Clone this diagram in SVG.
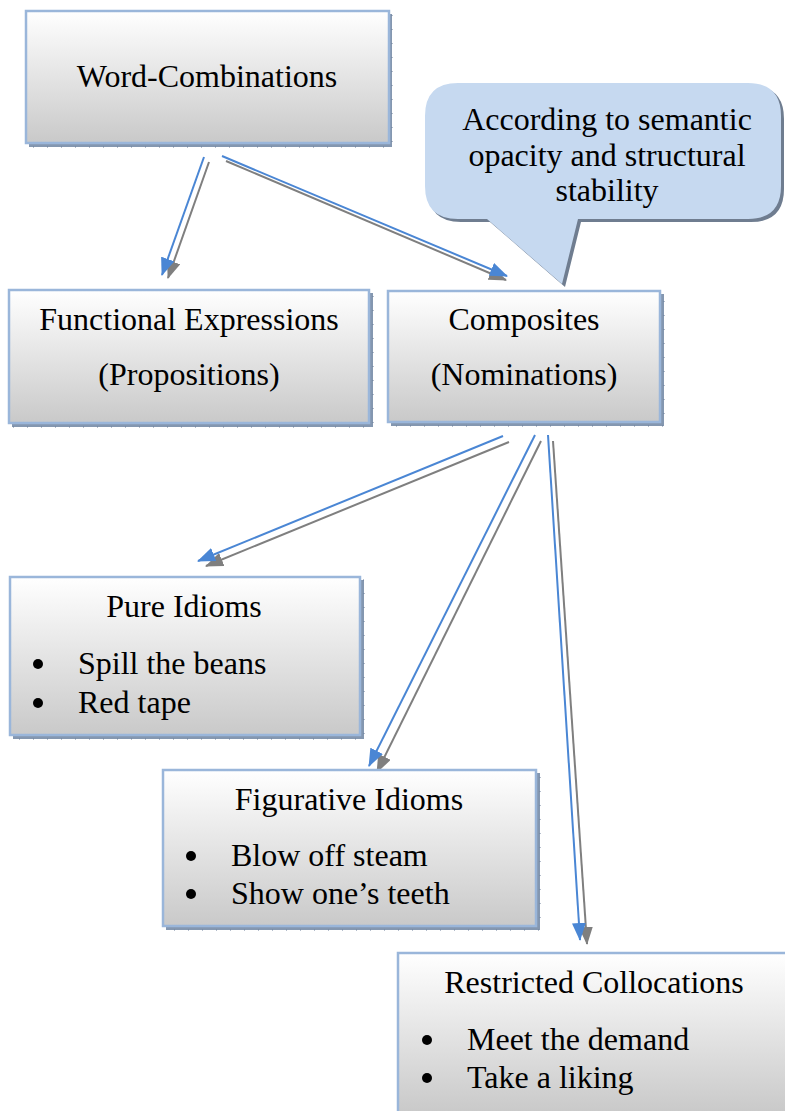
<svg xmlns="http://www.w3.org/2000/svg" width="785" height="1111" viewBox="0 0 785 1111">
  <defs>
    <linearGradient id="boxFill" x1="0" y1="0" x2="0" y2="1">
      <stop offset="0" stop-color="#ffffff"/>
      <stop offset="1" stop-color="#c9c9c9"/>
    </linearGradient>
    <marker id="headBlue" viewBox="0 0 18 14" refX="17" refY="7" markerWidth="18" markerHeight="14" markerUnits="userSpaceOnUse" orient="auto">
      <path d="M0,0 L18,7 L0,14 z" fill="#4a86d4"/>
    </marker>
    <marker id="headGray" viewBox="0 0 18 14" refX="17" refY="7" markerWidth="18" markerHeight="14" markerUnits="userSpaceOnUse" orient="auto">
      <path d="M0,0 L18,7 L0,14 z" fill="#7f7f7f"/>
    </marker>
  </defs>
  <style>
    .shadow { fill: #8497b0; stroke: #6c7f99; stroke-width: 1; stroke-dasharray: 1 13; }
    .box { fill: url(#boxFill); stroke: #9ab6da; stroke-width: 2.5; }
    .label { font-family: "Liberation Serif", "Times New Roman", serif; font-size: 32px; fill: #000; }
    .mid { text-anchor: middle; }
    .blue { stroke: #4a86d4; stroke-width: 2; fill: none; marker-end: url(#headBlue); }
    .gray { stroke: #7f7f7f; stroke-width: 2; fill: none; marker-end: url(#headGray); }
    .bubble { fill: #c6d9f0; }
    .bubbleShadow { fill: #6f7d90; }
  </style>

  <rect width="785" height="1111" fill="#ffffff"/>

  <!-- connectors: each drawn as a gray shadow line under a blue line -->
  <g id="connectors">
    <line class="gray" x1="209" y1="162" x2="168" y2="278"/>
    <line class="blue" x1="204" y1="157" x2="162" y2="275"/>

    <line class="gray" x1="226" y1="161" x2="506" y2="280"/>
    <line class="blue" x1="222" y1="156" x2="507" y2="276"/>

    <line class="gray" x1="509" y1="442" x2="206" y2="566"/>
    <line class="blue" x1="503" y1="436" x2="198" y2="561"/>

    <line class="gray" x1="541" y1="441" x2="377" y2="772"/>
    <line class="blue" x1="535" y1="435" x2="369" y2="766"/>

    <line class="gray" x1="553" y1="441" x2="587" y2="944"/>
    <line class="blue" x1="548" y1="435" x2="580" y2="940"/>
  </g>

  <!-- callout with its pointer -->
  <g id="callout">
    <path class="bubbleShadow" transform="translate(3,3)" d="M458,83 H748 Q781,83 781,116 V186 Q781,219 748,219 H578 L562,284 L487,219 H458 Q425,219 425,186 V116 Q425,83 458,83 Z"/>
    <path class="bubble" d="M458,83 H748 Q781,83 781,116 V186 Q781,219 748,219 H578 L562,284 L487,219 H458 Q425,219 425,186 V116 Q425,83 458,83 Z"/>
    <text class="label mid" x="607" y="130">According to semantic</text>
    <text class="label mid" x="607" y="166">opacity and structural</text>
    <text class="label mid" x="607" y="201">stability</text>
  </g>

  <g id="word-combinations">
    <rect class="shadow" x="29" y="14" width="363" height="133"/>
    <rect class="box" x="26" y="11" width="363" height="132"/>
    <text class="label mid" x="207" y="87">Word-Combinations</text>
  </g>

  <g id="functional-expressions">
    <rect class="shadow" x="12" y="293" width="361" height="134"/>
    <rect class="box" x="9" y="290" width="360" height="133"/>
    <text class="label mid" x="189" y="330">Functional Expressions</text>
    <text class="label mid" x="189" y="385">(Propositions)</text>
  </g>

  <g id="composites">
    <rect class="shadow" x="391" y="294" width="273" height="132"/>
    <rect class="box" x="388" y="291" width="272" height="131"/>
    <text class="label mid" x="524" y="330">Composites</text>
    <text class="label mid" x="524" y="385">(Nominations)</text>
  </g>

  <g id="pure-idioms">
    <rect class="shadow" x="13" y="580" width="351" height="159"/>
    <rect class="box" x="10" y="577" width="350" height="158"/>
    <text class="label mid" x="184" y="617">Pure Idioms</text>
    <circle cx="38" cy="664" r="5"/>
    <text class="label" x="78" y="674">Spill the beans</text>
    <circle cx="38" cy="703" r="5"/>
    <text class="label" x="78" y="713">Red tape</text>
  </g>

  <g id="figurative-idioms">
    <rect class="shadow" x="166" y="773" width="374" height="157"/>
    <rect class="box" x="163" y="770" width="373" height="156"/>
    <text class="label mid" x="349" y="810">Figurative Idioms</text>
    <circle cx="191" cy="856" r="5"/>
    <text class="label" x="231" y="866">Blow off steam</text>
    <circle cx="191" cy="894" r="5"/>
    <text class="label" x="231" y="904">Show one’s teeth</text>
  </g>

  <g id="restricted-collocations">
    <rect class="shadow" x="401" y="957" width="400" height="160"/>
    <rect class="box" x="398" y="953" width="400" height="160"/>
    <text class="label mid" x="594" y="993">Restricted Collocations</text>
    <circle cx="427" cy="1040" r="5"/>
    <text class="label" x="467" y="1050">Meet the demand</text>
    <circle cx="427" cy="1078" r="5"/>
    <text class="label" x="467" y="1088">Take a liking</text>
  </g>
</svg>
